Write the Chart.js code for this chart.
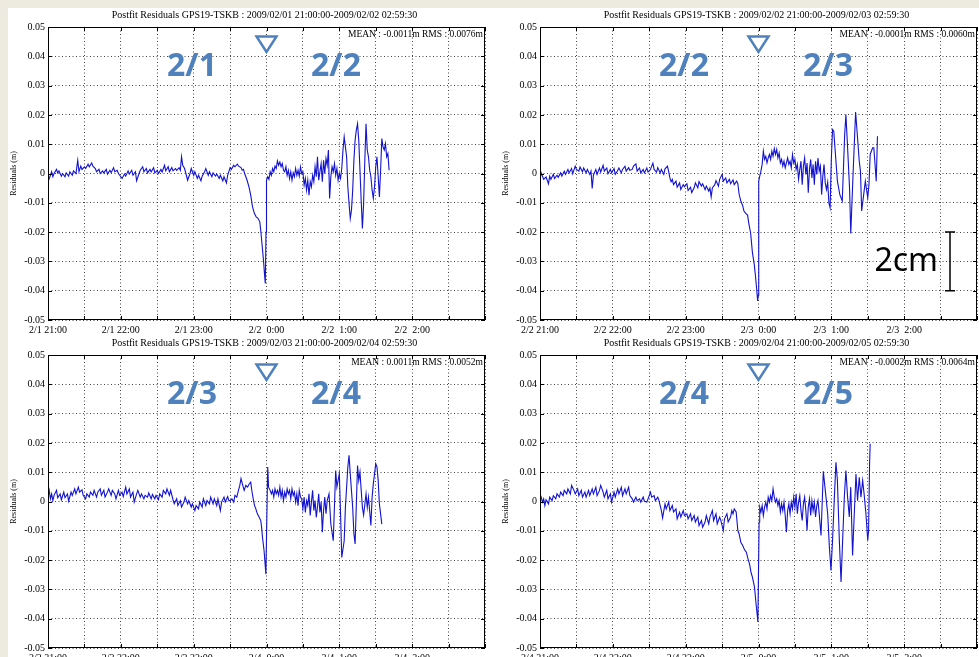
<!DOCTYPE html>
<html>
<head>
<meta charset="utf-8">
<script src="https://cdn.jsdelivr.net/npm/chart.js@4.4.1/dist/chart.umd.min.js"></script>
<style>
  html, body { margin: 0; padding: 0; width: 979px; height: 657px; overflow: hidden; background: #edebe0; }
  #sheet { position: absolute; left: 8px; top: 8px; width: 971px; height: 649px; background: #ffffff; }
  canvas { position: absolute; }
</style>
</head>
<body>
<div id="sheet"></div>
<canvas id="panel-1" width="489" height="345" style="left:0px;top:0px"></canvas>
<canvas id="panel-2" width="489" height="345" style="left:492px;top:0px"></canvas>
<canvas id="panel-3" width="489" height="345" style="left:0px;top:328px"></canvas>
<canvas id="panel-4" width="489" height="345" style="left:492px;top:328px"></canvas>
<script>
// residuals: [minutes after 21:00, residual in mm]
const resid1 = [
  [0,-2.8],[1,-1.7],[2,-0.6],[3,0.6],[4,-1.1],[5,0],[7,1.4],[8,0.2],[9,0.9],[11,-0.9],[12,0],[14,-1.1],
  [15,0.2],[17,-0.9],[18,0.6],[20,-0.6],[21,0.9],[23,0],[24.5,4.5],[25.5,0.6],[27,2.5],[28,1.4],[30,2.3],
  [31,1.7],[33,3.2],[34,2.3],[36,3.6],[37,2.5],[39,1.7],[40,0.6],[42,1.4],[43,0],[45,0.9],[46,0.2],[48,1.4],
  [49,-0.2],[51,1.1],[52,0.3],[54,2],[55,0.6],[57,1.1],[58,0],[60,-1.1],[61,-1.7],[63,-0.2],[64,-0.9],
  [66,0.9],[67,-0.2],[69,1.1],[70,-0.6],[72,0.6],[73,-2.5],[75,0],[76,1.1],[78,2.3],[79,0.6],[81,1.7],
  [82,0.2],[84,1.4],[85,0.6],[87,2],[88,0.2],[90,1.1],[91,0],[93,1.4],[94,0.5],[96,2.8],[97,0.9],[99,2.3],
  [100,0.6],[102,2],[103,0.9],[105,1.7],[106,1.1],[108,2],[109,1.1],[110,5.7],[111,2.8],[112.5,1.7],
  [114,-0.6],[115,-2.3],[117,0],[118,1.7],[120,-0.6],[121,0.6],[123,-1.7],[124,-0.6],[126,-2.5],[127,-0.9],
  [129,0.6],[130,1.7],[132,-0.6],[133,0.6],[135,-1.1],[136,0.2],[138,-0.9],[139,-0.2],[141,-1.7],[142,-0.6],
  [144,-2.5],[145,-1.1],[147,-3.2],[148,-0.6],[150,2],[151,1.4],[153,2.8],[154,2.3],[156,3.2],[157,2.5],
  [159,2],[160,1.1],[161,1.4],[162,0],[164,-2.3],[165.5,-4.5],[167,-7.4],[168.5,-11.4],[170,-13.6],
  [171.5,-14.8],[173,-15.3],[174.5,-16.5],[175.5,-20.5],[176.5,-25],[177.5,-29.5],[178.3,-34],[179,-37.5],
  [179.6,-20],[180,-2.3],[181,-1.1],[182,-2],[183,0.6],[184,-0.6],[185,1.7],[186,0.6],[187,2.5],[188,1.7],
  [189,4.3],[190,2.8],[191,3.9],[192,2.3],[193,3.4],[194,1.1],[195,0.6],[196,2.3],[197,-0.6],[198,1.1],
  [199,-1.7],[200,0.6],[201,-2.3],[202,0.2],[203,-1.1],[204,1.7],[205,-0.6],[206,1.1],[207,-0.9],[208,2.3],
  [209,0],[210,0.6],[211,-4],[212,-1.7],[213,-5.7],[214,-2.3],[215,-7.4],[216,-2.8],[217,-4.5],[218,-0.6],
  [219,-2.8],[220,2.3],[221,-1.1],[222,5.7],[223,-2.3],[224,0.6],[225,3.4],[226,-2.8],[227,4.5],[228,0],
  [229,5.1],[230,2.8],[231,8],[232,-8.5],[233,-1.1],[234,2.3],[235,0.6],[236,3.4],[237,-0.6],[238,1.7],
  [239,-2.3],[240,0],[241,-1.7],[242,1.7],[243,8],[244,12.5],[245,9.1],[246,5.7],[247,-4.5],[248,-10.2],
  [249,-15.3],[250,-12.5],[251,-5.7],[252,4.5],[253,11.4],[254,14.8],[255,17],[256,11.4],[257,1.1],
  [258,-9.1],[259,-18.8],[260,-10.2],[261,4.5],[262,17],[263,8],[264,5.7],[265,1.1],[266,-1.1],[267,-5.7],
  [268,-8.5],[269,-4.5],[270,2.3],[271,5.7],[272,-1.1],[273,-8],[274,1.1],[275,11.9],[276,9.1],[277,8],
  [278,10.2],[279,5.7],[280,6.8],[281,1.1]
];

const resid2 = [
  [0,-2],[1,0.2],[2,-0.9],[3,-2],[5,-1.2],[7,-3.5],[8,-0.9],[9,-2],[11,-0.3],[12,-1.7],[14,-0.6],[15,-1.3],
  [17,0.2],[18,-0.9],[20,0.8],[21,-0.3],[23,1.4],[24,0.2],[26,1.7],[27,-0.1],[29,2.5],[30,1.4],[32,0.8],
  [33,2.2],[35,0.6],[36,1.9],[38,0.2],[39,1.4],[41,-0.3],[42,0.8],[43,-5.1],[44,-0.6],[46,1.4],[47,-0.3],
  [49,1.9],[50,0.5],[52,2.8],[53,0.8],[55,1.9],[56,-0.1],[58,1.4],[59,0.2],[61,1.7],[62,-0.3],[64,1],
  [65,1.9],[67,0.2],[68,1.4],[70,2.5],[71,0.8],[73,2],[74,1.1],[76,1.4],[77,2.5],[79,3.3],[80,0.8],[82,1.9],
  [83,0.2],[85,1.4],[86,0.2],[88,1.9],[89,0.5],[91,1.4],[92,2.5],[93,3.5],[94,1.4],[96,0.5],[97,2],[99,0.2],
  [100,1.4],[102,-0.3],[103,1.6],[105,2.5],[106,0.6],[107,-1.5],[108,-2.8],[109,-2],[110,-3.8],[112,-2.6],
  [113,-4.7],[115,-3.2],[116,-5.5],[118,-3.8],[119,-4.5],[121,-3.5],[122,-5.8],[124,-4.7],[125,-6.5],
  [127,-4.9],[128,-3.2],[130,-4.9],[131,-2.8],[133,-4.3],[134,-3.5],[136,-5.5],[137,-4.3],[139,-6],[140,-5],
  [141,-8],[142,-4.9],[144,-3.8],[145,-2.4],[147,-4.3],[148,-2],[150,-0.3],[151,-2.6],[153,-1.5],[154,-3.2],
  [156,-2],[157,-3.5],[159,-2.2],[160,-3.8],[162,-2.6],[163,-3.5],[164,-7],[165.5,-9.5],[167,-11],
  [168,-12.8],[169.5,-13.6],[171,-14.2],[172,-17],[173.5,-20.3],[175,-27],[176.5,-31],[177.5,-35],
  [178.5,-39.5],[179.3,-43.5],[179.8,-41.5],[180.2,-2.6],[181,-0.9],[182,0.8],[183,3.1],[184,7.6],[185,4.8],
  [186,5.9],[187,3.6],[188,5.3],[189,6.5],[190,4.8],[191,7.6],[192,5.9],[193,8.5],[194,6.5],[195,8.2],
  [196,5.3],[197,7],[198,3.6],[199,4.8],[200,2.5],[201,4.2],[202,1.9],[203,3.6],[204,5.3],[205,3.1],
  [206,4.2],[207,1.9],[208,6.5],[209,3.6],[210,4.8],[211,1.4],[212,3.1],[213,-2],[214,1.4],[215,4.2],
  [216,-3.8],[217,2.5],[218,5.3],[219,-0.3],[220,3.6],[221,-6.6],[222,1.4],[223,4.8],[224,-1.5],[225,3.1],
  [226,-3.8],[227,4.2],[228,-0.3],[229,5.3],[230,0.8],[231,2.5],[232,-7.2],[233,-0.9],[234,3.1],[235,-3.2],
  [236,-5.5],[237,-3],[238,-10],[239,-11.7],[240,5],[241,15],[242,14.4],[243,8.8],[245,-2.6],[247,-7.2],
  [249,-9.4],[251,13.3],[252,20.1],[253,12.2],[255,-4.9],[256,-20.5],[258,0.8],[260,21],[262,9.9],[263,4.2],
  [264,0.8],[265,-12.8],[267,-6],[268,-2.6],[270,-8.3],[271,-3.8],[272,6.5],[274,8.8],[275,8.8],[277,-2.6],
  [278,12.7]
];

const resid3 = [
  [0,1.5],[1,3.8],[2,0.9],[3,2.6],[4,0.3],[5,2.1],[7,3.8],[8,1.3],[10,2.6],[11,0.6],[13,3.2],[14,1.3],
  [16,2.6],[17,0.1],[19,3.2],[20,2.1],[22,4.3],[23,2.6],[25,4.9],[26,3.2],[28,4],[29,2.1],[31,0.9],[32,2.6],
  [34,1.5],[35,3.2],[37,2.1],[38,3.8],[40,1.5],[41,3.2],[43,4.3],[44,2.1],[46,3.8],[47,1.5],[49,3.2],
  [50,4.3],[52,2.1],[53,3.8],[55,2.6],[56,0.9],[58,3.8],[59,2.1],[61,3.2],[62,1.7],[64,4.9],[65,2.6],
  [67,4.3],[68,1.5],[70,3.2],[71,-0.2],[73,2.6],[74,3.8],[76,1.5],[77,2.6],[79,0.9],[80,2.1],[82,1.5],
  [83,2.9],[85,0.9],[86,2.4],[88,0.9],[89,2.1],[91,0.6],[92,2.6],[94,1.5],[95,3.8],[97,2.6],[98,4.3],
  [100,2.1],[101,3.8],[103,0.6],[104,-0.8],[106,0.9],[107,-1.4],[109,0.3],[110,-1.9],[112,-0.2],[113,1.5],
  [115,-0.8],[116,0.3],[118,-1.9],[119,-0.8],[121,-3.1],[122,-1.4],[124,-2.5],[125,-0.2],[127,-1.9],
  [128,0.9],[130,-1.4],[131,0.3],[133,-0.8],[134,1.5],[136,-0.8],[137,0.9],[139,-1.4],[140,0.9],[142,-3.1],
  [143,-0.2],[145,1.5],[146,-0.2],[148,1.7],[149,0.3],[150,0.3],[151.5,0.9],[153,-0.2],[154,2.1],[155.5,1.5],
  [157,4],[158,5.5],[159,7.8],[160,6.2],[161.6,3.8],[163,5.5],[164.4,4.9],[165.5,5.8],[167,6.6],[168,3.5],
  [169.3,0.3],[170.2,-1.4],[171.2,-2.5],[172.5,-4.2],[174,-5.4],[175.3,-6.5],[176,-9],[176.7,-12.2],
  [178,-16.8],[179.5,-24.8],[180.3,-5],[181,11.8],[181.7,4.9],[183,3.8],[184,2.6],[185,3.8],[186,1.5],
  [187,4.3],[188,2.6],[189,3.8],[190,2.1],[191,4.9],[192,1.5],[193,3.8],[194,0.3],[195,3.2],[196,1.5],
  [197,4.3],[198,2.6],[199,3.8],[200,0.9],[201,4.3],[202,2.1],[203,3.2],[204,-0.2],[205,2.6],[206,-1.4],
  [207,3.8],[208,1.5],[209,0.9],[210,-2.5],[211,1.5],[212,-3.7],[213,0.3],[214,-1.4],[215,2.6],[216,-4.8],
  [217,-0.2],[218,3.8],[219,-3.1],[220,0.3],[221,-5.4],[222,-1.9],[223,2.6],[224,-3.7],[225,-0.2],
  [226,-10.5],[227,-3.1],[228,1.5],[229,-4.2],[230,0.3],[231.5,2.6],[233,-7.7],[235,-13.4],[237,10.6],
  [238,4.9],[240,9.5],[241,-4.2],[242,-19.1],[244,-13.4],[245,-2],[247,11.8],[248,15.8],[249,9.5],[251,-2],
  [252,-11],[253,-14.5],[255,12.3],[256,7.2],[257,10],[259,-2],[260,-4.6],[262,2.6],[263,-2],[264,1.5],
  [266,-8.2],[267,1.5],[268,6],[270,12.9],[271,11.8],[272,7.2],[273,-0.8],[275,-7.7]
];

const resid4 = [
  [0,0.3],[1,1.5],[2,-0.2],[3,0.9],[4,-1.4],[5,0.6],[7,-0.8],[8,1.5],[10,0.3],[11,2],[13,0.9],[14,2.6],
  [16,1.5],[17,3.2],[19,2],[20,3.8],[22,2.6],[23,4.3],[25,2.6],[26,5.5],[28,3.8],[29,2.6],[31,4.3],[32,2],
  [34,3.8],[35,1.5],[37,3.2],[38,1.5],[40,3.8],[41,2],[43,4.3],[44,2.6],[46,4.9],[47,2],[49,3.8],[50,5.5],
  [52,3.2],[53,1.5],[55,3.8],[56,0.9],[58,2.6],[59,-0.2],[61,3.2],[62,1.5],[64,4.3],[65,2.6],[67,4.9],
  [68,2],[70,4.3],[71,2.6],[73,4.9],[74,2],[76,0.9],[77,-0.2],[79,1.5],[80,0.3],[82,0.9],[83,-0.2],[85,1.5],
  [86,0.1],[88,-0.2],[89,0.9],[91,3.2],[92,1.5],[94,2],[95,0.3],[97,1.5],[98,0.3],[100,-3.1],[101,-5.6],
  [103,-0.8],[104,-2.5],[106,-0.2],[107,-3.1],[109,-1.4],[110,-3.6],[112,-2.5],[113,-5.9],[115,-3.6],
  [116,-5.3],[118,-3.1],[119,-4.8],[121,-4.2],[122,-5.9],[124,-4.2],[125,-6.5],[127,-4.8],[128,-7],
  [130,-5.3],[131,-8.2],[133,-6.5],[134,-8.8],[136,-7],[137,-4.8],[139,-7.6],[140,-5.3],[142,-3.1],
  [143,-6.5],[145,-4.2],[146,-7.6],[148,-5.3],[149,-6.5],[151,-9.9],[152,-5.9],[154,-4.2],[155,-7],
  [157,-5.3],[158,-3.1],[159,-4.2],[160,-2.5],[161.6,-3.6],[163,-9.9],[164,-11],[165.5,-14],[167,-15],
  [168.5,-16.5],[170,-17.3],[171.3,-19.5],[172.6,-21.3],[174,-24.5],[175,-25.8],[176.7,-29.2],[178,-35],
  [179,-39],[179.5,-41.1],[180,-24],[180.5,-7],[181,-1.9],[182,-3.6],[183,-1.4],[184,-4.8],[185,-1.9],
  [186,-0.2],[187,-2.5],[188,1.5],[189,-0.2],[190,2],[191,0.3],[192,4.3],[193,1.5],[194,-0.2],[195,0.9],
  [196,-1.4],[197,0.3],[198,-3.6],[199,-0.8],[200,-3.1],[201,-0.2],[202,-4.8],[203,-10.5],[204,-3.1],
  [205,-0.8],[206,-4.2],[207,-0.2],[208,-2.5],[209,1.5],[210,-1.9],[211,2.6],[212,-4.2],[213,-0.2],[214,2],
  [215,-3.1],[216,-6.5],[217,-0.8],[218,1.5],[219,-3.1],[220,-9.9],[221,-1.9],[222,0.9],[223,-4.8],
  [224,0.3],[225,-3.1],[226,-0.2],[227,-5.3],[228,-1.4],[229,0.3],[230,-4.2],[231.5,-11.6],[233.4,10.3],
  [235.6,1.5],[237,-4.2],[238.4,-15.6],[239.7,-23.5],[241,-13.3],[242.5,1.5],[243.8,13.4],[245,7.2],
  [246.6,-13.3],[248,-27.5],[249.3,-13.3],[250.7,1.5],[252,10.6],[253.4,1.5],[254.8,-5.3],[256,4.9],
  [257.5,-18.4],[258.9,-4.2],[260.3,9.4],[261.6,0.3],[263,8.3],[264.4,1.5],[265.8,7.2],[267,2.6],
  [268.5,-4.2],[270,-13.3],[270.7,-9.9],[271.5,12.8],[272,19.7]
];

// x tick labels (every hour, starting 21:00)
const hours1 = ['2/1 21:00', '2/1 22:00', '2/1 23:00', '2/2  0:00', '2/2  1:00', '2/2  2:00'];
const hours2 = ['2/2 21:00', '2/2 22:00', '2/2 23:00', '2/3  0:00', '2/3  1:00', '2/3  2:00'];
const hours3 = ['2/3 21:00', '2/3 22:00', '2/3 23:00', '2/4  0:00', '2/4  1:00', '2/4  2:00'];
const hours4 = ['2/4 21:00', '2/4 22:00', '2/4 23:00', '2/5  0:00', '2/5  1:00', '2/5  2:00'];

const titles = [
  'Postfit Residuals GPS19-TSKB : 2009/02/01 21:00:00-2009/02/02 02:59:30',
  'Postfit Residuals GPS19-TSKB : 2009/02/02 21:00:00-2009/02/03 02:59:30',
  'Postfit Residuals GPS19-TSKB : 2009/02/03 21:00:00-2009/02/04 02:59:30',
  'Postfit Residuals GPS19-TSKB : 2009/02/04 21:00:00-2009/02/05 02:59:30'
];
const stats = [
  'MEAN : -0.0011m RMS : 0.0076m',
  'MEAN : -0.0001m RMS : 0.0060m',
  'MEAN : 0.0011m RMS : 0.0052m',
  'MEAN : -0.0002m RMS : 0.0064m'
];
const dayMarks = [['2/1', '2/2'], ['2/2', '2/3'], ['2/3', '2/4'], ['2/4', '2/5']];

const ACCENT = '#4f81bd';
const SERIF = "'Liberation Serif', 'DejaVu Serif', serif";

Chart.defaults.font.family = SERIF;
Chart.defaults.font.size = 10;
Chart.defaults.color = '#000';

// frame, inner ticks and the annotations drawn over each panel
const overlay = {
  id: 'overlay',
  afterDraw(chart, args, o) {
    const { ctx, chartArea: a } = chart;
    const xs = chart.scales.x, ys = chart.scales.y;
    ctx.save();
    ctx.strokeStyle = '#000';
    ctx.lineWidth = 1;
    ctx.strokeRect(a.left + 0.5, a.top + 0.5, a.right - a.left - 1, a.bottom - a.top - 1);
    ctx.beginPath();
    xs.ticks.forEach(t => {
      const x = Math.round(xs.getPixelForValue(t.value)) + 0.5;
      ctx.moveTo(x, a.bottom); ctx.lineTo(x, a.bottom - 4);
      ctx.moveTo(x, a.top); ctx.lineTo(x, a.top + 4);
    });
    ys.ticks.forEach(t => {
      const y = Math.round(ys.getPixelForValue(t.value)) + 0.5;
      ctx.moveTo(a.left, y); ctx.lineTo(a.left + 4, y);
      ctx.moveTo(a.right, y); ctx.lineTo(a.right - 4, y);
    });
    ctx.stroke();

    ctx.fillStyle = '#000';
    ctx.textBaseline = 'middle';
    ctx.font = '10px ' + SERIF;
    ctx.textAlign = 'center';
    ctx.fillText(o.title, (a.left + a.right) / 2 - 2, a.top - 11.5);
    ctx.font = '9.5px ' + SERIF;
    ctx.textAlign = 'right';
    ctx.fillText(o.stats, a.right - 2, a.top + 7);

    ctx.save();
    ctx.translate(a.left - 34.5, (a.top + a.bottom) / 2);
    ctx.rotate(-Math.PI / 2);
    ctx.textAlign = 'center';
    ctx.font = '8px ' + SERIF;
    ctx.fillText('Residuals (m)', 0, 0);
    ctx.restore();

    // day labels either side of midnight
    ctx.fillStyle = ACCENT;
    ctx.font = "bold 32px 'Noto Sans', sans-serif";
    ctx.textAlign = 'center';
    ctx.fillText(o.days[0], a.left + 144, a.top + 40);
    ctx.fillText(o.days[1], a.left + 288, a.top + 40);

    // open triangle marking midnight
    const mx = xs.getPixelForValue(180);
    ctx.strokeStyle = ACCENT;
    ctx.fillStyle = '#fff';
    ctx.lineWidth = 2.5;
    ctx.lineJoin = 'miter';
    ctx.beginPath();
    ctx.moveTo(mx - 10, a.top + 9.5);
    ctx.lineTo(mx + 10, a.top + 9.5);
    ctx.lineTo(mx, a.top + 25);
    ctx.closePath();
    ctx.fill();
    ctx.stroke();

    if (o.scaleBar) {
      const y0 = ys.getPixelForValue(-0.02), y1 = ys.getPixelForValue(-0.04);
      const bx = a.left + 410;
      ctx.strokeStyle = '#000';
      ctx.lineWidth = 1.5;
      ctx.beginPath();
      ctx.moveTo(bx, y0); ctx.lineTo(bx, y1);
      ctx.moveTo(bx - 5, y0); ctx.lineTo(bx + 5, y0);
      ctx.moveTo(bx - 5, y1); ctx.lineTo(bx + 5, y1);
      ctx.stroke();
      ctx.fillStyle = '#000';
      ctx.font = "32px 'Noto Sans', sans-serif";
      ctx.textAlign = 'right';
      ctx.fillText('2cm', bx - 12, ys.getPixelForValue(-0.03));
    }
    ctx.restore();
  }
};

function makePanel(id, points, hours, index, scaleBar) {
  const ctx = document.getElementById(id).getContext('2d');
  return new Chart(ctx, {
    type: 'line',
    data: {
      datasets: [{
        data: points.map(p => ({ x: p[0], y: p[1] / 1000 })),
        borderColor: '#1212cf',
        borderWidth: 1.1,
        pointRadius: 0,
        tension: 0,
        fill: false
      }]
    },
    options: {
      responsive: false,
      animation: false,
      devicePixelRatio: 1,
      layout: { padding: { top: 27, right: 4, bottom: 5, left: 0 } },
      plugins: {
        legend: { display: false },
        tooltip: { enabled: false },
        overlay: { title: titles[index], stats: stats[index], days: dayMarks[index], scaleBar: scaleBar }
      },
      scales: {
        x: {
          type: 'linear',
          min: 0,
          max: 360,
          afterFit: s => { s.height = 20; },
          ticks: {
            stepSize: 30,
            autoSkip: false,
            maxRotation: 0,
            padding: 4,
            font: { size: 10 },
            callback: v => {
              const k = Math.round(v / 30);
              return (k % 2 === 0 && k < 12) ? hours[k / 2] : '';
            }
          },
          grid: { color: '#444', drawTicks: false },
          border: { display: false, dash: [1, 2.5] }
        },
        y: {
          min: -0.05,
          max: 0.05,
          afterFit: s => { s.width = 48; },
          ticks: {
            stepSize: 0.01,
            padding: 3,
            font: { size: 10 },
            callback: v => Math.abs(v) < 1e-9 ? '0' : v.toFixed(2)
          },
          grid: { color: '#444', drawTicks: false },
          border: { display: false, dash: [1, 2.5] }
        }
      }
    },
    plugins: [overlay]
  });
}

makePanel('panel-1', resid1, hours1, 0, false);
makePanel('panel-2', resid2, hours2, 1, true);
makePanel('panel-3', resid3, hours3, 2, false);
makePanel('panel-4', resid4, hours4, 3, false);
</script>
</body>
</html>
